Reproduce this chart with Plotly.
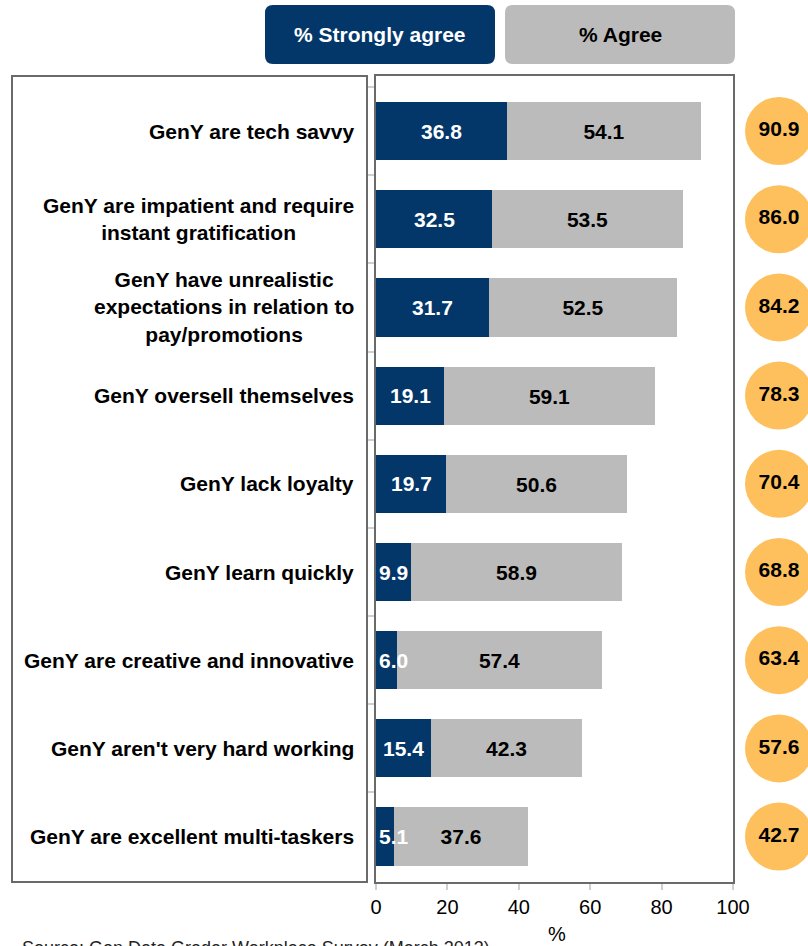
import plotly.graph_objects as go

# --- data -------------------------------------------------------------
statements = [
    "GenY are tech savvy",
    "GenY are impatient and require<br>instant gratification",
    "GenY have unrealistic<br>expectations in relation to<br>pay/promotions",
    "GenY oversell themselves",
    "GenY lack loyalty",
    "GenY learn quickly",
    "GenY are creative and innovative",
    "GenY aren't very hard working",
    "GenY are excellent multi-taskers",
]
strongly_agree = [36.8, 32.5, 31.7, 19.1, 19.7, 9.9, 6.0, 15.4, 5.1]
agree = [54.1, 53.5, 52.5, 59.1, 50.6, 58.9, 57.4, 42.3, 37.6]
total_agree = [90.9, 86.0, 84.2, 78.3, 70.4, 68.8, 63.4, 57.6, 42.7]
x_ticks = [0, 20, 40, 60, 80, 100]

# --- styling ----------------------------------------------------------
NAVY = "#03376A"
GREY = "#BBBBBB"
ORANGE = "#FEC05C"
FRAME = "#6A6A6A"
FONT = "Liberation Sans, Arial, sans-serif"

W, H = 808, 946
PLOT_L, PLOT_R, PLOT_T, PLOT_B = 376, 733, 76, 882
PAPER_W = W - PLOT_L
PAPER_H = PLOT_B - PLOT_T
BUBBLE_X = 779  # centre of the totals column


def px(xp):
    return (xp - PLOT_L) / PAPER_W


def py(yp):
    return (PLOT_B - yp) / PAPER_H


def rounded_box(x0, y0, x1, y1, r):
    pts = [
        ("M", x0 + r, y0), ("L", x1 - r, y0), ("Q", x1, y0, x1, y0 + r),
        ("L", x1, y1 - r), ("Q", x1, y1, x1 - r, y1), ("L", x0 + r, y1),
        ("Q", x0, y1, x0, y1 - r), ("L", x0, y0 + r), ("Q", x0, y0, x0 + r, y0),
    ]
    out = []
    for p in pts:
        cmd, coords = p[0], p[1:]
        pairs = [f"{px(coords[i]):.5f},{py(coords[i + 1]):.5f}" for i in range(0, len(coords), 2)]
        out.append(cmd + " " + " ".join(pairs))
    return " ".join(out) + " Z"


n = len(statements)
rows = list(range(n))
y_top = -0.624
y_bot = 8.515

fig = go.Figure()

fig.add_trace(go.Bar(
    y=rows, x=strongly_agree, orientation="h",
    marker=dict(color=NAVY, line=dict(width=0)),
    width=0.66, showlegend=False, hoverinfo="x",
))
fig.add_trace(go.Bar(
    y=rows, x=agree, orientation="h",
    marker=dict(color=GREY, line=dict(width=0)),
    width=0.66, showlegend=False,
    text=[f"{v:.1f}" for v in agree], texttemplate="%{text}",
    textposition="inside", insidetextanchor="middle", textangle=0,
    constraintext="none",
    textfont=dict(family=FONT, size=21, color="black", weight="bold"),
    hoverinfo="x",
))

# total agreement bubbles in the right-hand column
fig.add_trace(go.Scatter(
    x=[BUBBLE_X] * n, y=rows, xaxis="x2", yaxis="y",
    mode="markers+text",
    marker=dict(size=68, color=ORANGE, line=dict(width=0)),
    text=[f"{v:.1f}" for v in total_agree], textposition="middle center",
    textfont=dict(family=FONT, size=21, color="black", weight="bold"),
    cliponaxis=False, showlegend=False, hoverinfo="text",
))

annotations = []
# statement labels in the left panel
for i, label in enumerate(statements):
    annotations.append(dict(
        x=px(356), xref="paper", y=i, yref="y",
        text=f"<b>{label}</b>", showarrow=False,
        xanchor="right", yanchor="middle", align="center",
        font=dict(family=FONT, size=21, color="black"),
    ))
# "strongly agree" values: centred when they fit, left-aligned otherwise
for i, v in enumerate(strongly_agree):
    fits = v >= 12
    annotations.append(dict(
        x=v / 2 if fits else 0, xref="x", y=i, yref="y",
        text=f"<b>{v:.1f}</b>", showarrow=False,
        xanchor="center" if fits else "left", xshift=0 if fits else 1,
        yanchor="middle",
        font=dict(family=FONT, size=21, color="white"),
    ))
# legend headers
annotations.append(dict(
    x=px(380), y=py(34), xref="paper", yref="paper", showarrow=False,
    text="<b>% Strongly agree</b>", font=dict(family=FONT, size=21, color="white"),
    xanchor="center", yanchor="middle",
))
annotations.append(dict(
    x=px(620), y=py(34), xref="paper", yref="paper", showarrow=False,
    text="<b>% Agree</b>", font=dict(family=FONT, size=21, color="black"),
    xanchor="center", yanchor="middle",
))
# x-axis unit
annotations.append(dict(
    x=px(557), xref="paper", y=py(934), yref="paper", showarrow=False,
    text="%", font=dict(family=FONT, size=20, color="black"),
    xanchor="center", yanchor="middle",
))
# source note
annotations.append(dict(
    x=px(20), y=py(948), xref="paper", yref="paper", showarrow=False,
    text="Source: Gen Data Gradar Workplace Survey (March 2013)",
    font=dict(family=FONT, size=18, color="#222222"),
    xanchor="left", yanchor="middle",
))

shapes = [
    # left label panel
    dict(type="rect", xref="paper", yref="paper",
         x0=px(12), x1=px(367), y0=py(PLOT_B), y1=py(PLOT_T),
         line=dict(color=FRAME, width=2), fillcolor="rgba(0,0,0,0)", layer="above"),
    # legend header boxes
    dict(type="path", xref="paper", yref="paper", path=rounded_box(265, 5, 495, 64, 8),
         fillcolor=NAVY, line=dict(width=0)),
    dict(type="path", xref="paper", yref="paper", path=rounded_box(505, 5, 735, 64, 8),
         fillcolor=GREY, line=dict(width=0)),
]

fig.update_layout(
    template="none",
    width=W, height=H, autosize=False,
    margin=dict(l=PLOT_L, r=0, t=PLOT_T, b=H - PLOT_B, pad=0, autoexpand=False),
    paper_bgcolor="white", plot_bgcolor="white",
    barmode="stack", bargap=0,
    font=dict(family=FONT, size=20, color="black"),
    xaxis=dict(
        domain=[0, (PLOT_R - PLOT_L) / PAPER_W], range=[0, 100],
        tickvals=x_ticks, ticks="outside", ticklen=6, tickcolor="#CFCFCF", tickwidth=1.5,
        tickfont=dict(family=FONT, size=20, color="black"),
        showgrid=False, zeroline=False, automargin=False,
        showline=True, mirror=True, linecolor=FRAME, linewidth=2,
        fixedrange=True,
    ),
    xaxis2=dict(
        domain=[(PLOT_R - PLOT_L) / PAPER_W, 1], range=[PLOT_R, W],
        anchor="y", visible=False, fixedrange=True, automargin=False,
    ),
    yaxis=dict(
        range=[y_bot, y_top],
        tickvals=[i - 0.5 for i in rows], ticks="outside", ticklen=6,
        tickcolor="#CFCFCF", tickwidth=1.5, showticklabels=False,
        showgrid=False, zeroline=False, automargin=False,
        showline=True, mirror=True, linecolor=FRAME, linewidth=2,
        fixedrange=True,
    ),
    annotations=annotations,
    shapes=shapes,
)

# keep the page exactly figure-sized, with no scrollbars
page_css = (
    "document.documentElement.style.overflow='hidden';"
    "document.body.style.overflow='hidden';"
    "document.body.style.margin='0';"
)
fig.write_html("out.html", config={"responsive": False, "displayModeBar": False},
               post_script=page_css)
